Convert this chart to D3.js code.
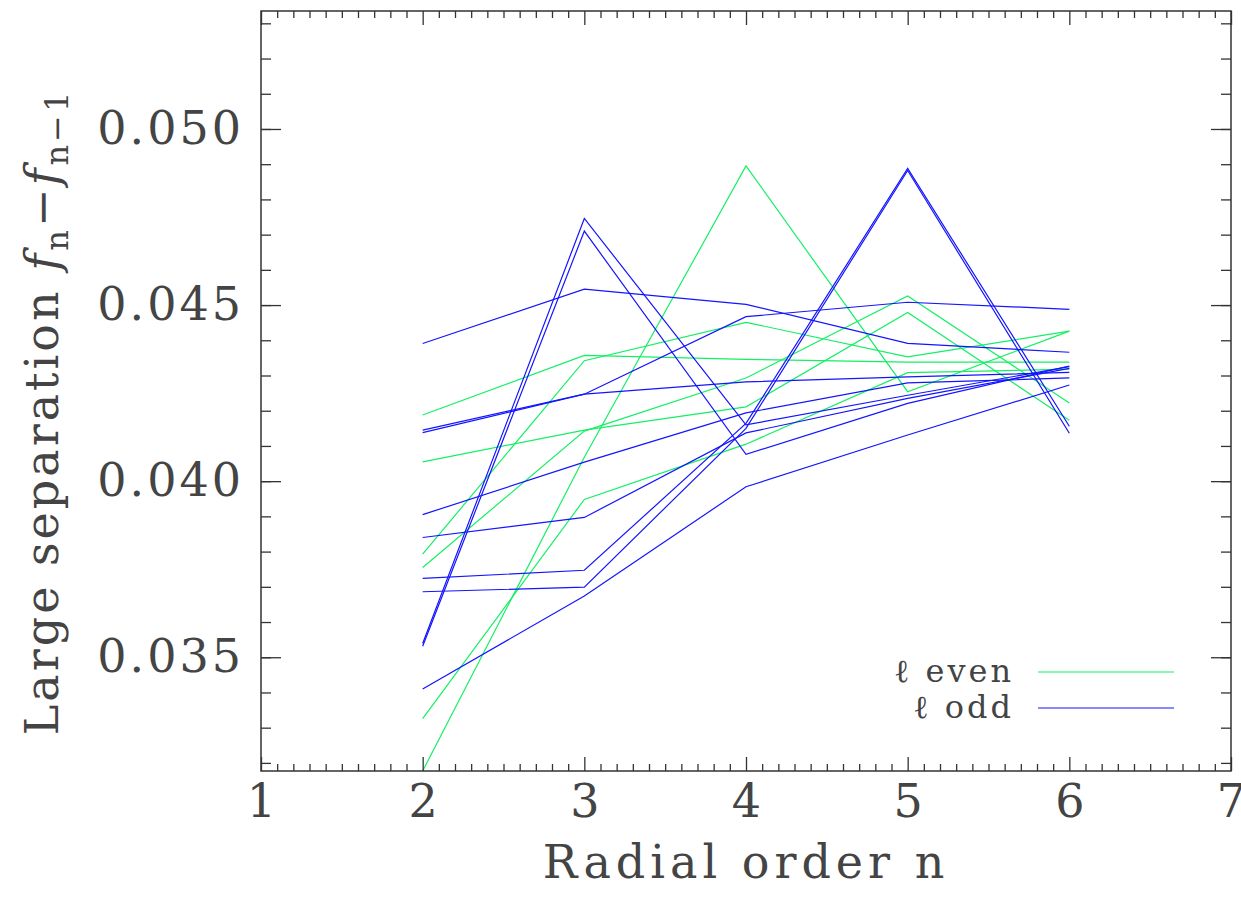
<!DOCTYPE html>
<html>
<head>
<meta charset="utf-8">
<script src="https://cdn.jsdelivr.net/npm/d3@7/dist/d3.min.js"></script>
<style>
  body { margin: 0; background: #fff; }
</style>
</head>
<body>
<div id="chart"></div>
<script>
// radial order n on the x axis
var radialOrder = [2, 3, 4, 5, 6]

// large separation for the l even modes (green)
var evenSeries = [
    [0.03177, 0.04068, 0.04895, 0.04254, 0.04426],
    [0.03326, 0.03948, 0.04105, 0.04308, 0.04318],
    [0.04188, 0.04357, 0.04346, 0.04338, 0.04338],
    [0.03793, 0.04342, 0.04451, 0.04353, 0.04426],
    [0.04055, 0.04145, 0.04211, 0.04479, 0.04173],
    [0.03755, 0.04142, 0.04293, 0.04526, 0.04222]
]

// large separation for the l odd modes (blue)
var oddSeries = [
    [0.04391, 0.04545, 0.04502, 0.04391, 0.04366],
    [0.04145, 0.04247, 0.04467, 0.04508, 0.04488],
    [0.04138, 0.04247, 0.04282, 0.04296, 0.04309],
    [0.03905, 0.04054, 0.04194, 0.04279, 0.04293],
    [0.03840, 0.03897, 0.04137, 0.04235, 0.04320],
    [0.03724, 0.03747, 0.04164, 0.04888, 0.04156],
    [0.03686, 0.03699, 0.04150, 0.04882, 0.04136],
    [0.03539, 0.04746, 0.04160, 0.04244, 0.04325],
    [0.03531, 0.04710, 0.04076, 0.04221, 0.04327],
    [0.03410, 0.03674, 0.03984, 0.04131, 0.04273]
]

var xTicks = [1, 2, 3, 4, 5, 6, 7]
var yTicks = [0.035, 0.040, 0.045, 0.050]
var legendLabels = ['even', 'odd']

var width = 1241,
    height = 912,
    margin = { top: 11, right: 10, bottom: 141, left: 261 },
    colorEven = '#14f064',
    colorOdd = '#1414ff',
    serif = '"DejaVu Serif", serif',
    textColor = '#444';

var innerW = width - margin.left - margin.right,
    innerH = height - margin.top - margin.bottom;

var svg = d3.select('#chart')
    .append('svg')
    .attr('width', width)
    .attr('height', height)
    .attr('font-family', serif)

var g = svg.append('g')
    .attr('transform', `translate(${margin.left},${margin.top})`)

var xScale = d3.scaleLinear().domain([1, 7]).range([0, innerW])
var yScale = d3.scaleLinear().domain([0.03177, 0.05335]).range([innerH, 0])

var minorX = d3.range(10, 71).map(d => d / 10).filter(d => d % 1 != 0)
var minorY = d3.range(32, 54).map(d => d / 1000)

g.append('clipPath').attr('id', 'clip')
    .append('rect').attr('width', innerW).attr('height', innerH)

// lines
var line = d3.line()
    .x((d, i) => xScale(radialOrder[i]))
    .y(d => yScale(d))

var lines = g.append('g').attr('clip-path', 'url(#clip)')

lines.selectAll('.even')
    .data(evenSeries)
    .enter().append('path')
    .attr('class', 'even')
    .attr('d', line)
    .attr('fill', 'none')
    .attr('stroke', colorEven)
    .attr('stroke-width', 1.2)

lines.selectAll('.odd')
    .data(oddSeries)
    .enter().append('path')
    .attr('class', 'odd')
    .attr('d', line)
    .attr('fill', 'none')
    .attr('stroke', colorOdd)
    .attr('stroke-width', 1.2)

// axes, ticks pointing inwards on all four sides
function styleAxis(sel) {
    sel.attr('font-family', serif)
    sel.select('.domain').remove()
    sel.selectAll('line').attr('stroke', '#333').attr('stroke-width', 1.3)
}

g.append('g').attr('transform', `translate(0,${innerH})`)
    .call(d3.axisBottom(xScale).tickValues(minorX).tickSize(-7).tickFormat(''))
    .call(styleAxis)
var xAxis = g.append('g').attr('transform', `translate(0,${innerH})`)
    .call(d3.axisBottom(xScale).tickValues(xTicks).tickSize(-14).tickPadding(13).tickFormat(d3.format('d')))
    .call(styleAxis)
xAxis.selectAll('text')
    .style('font-size', '46px')
    .style('font-weight', '200')
    .attr('fill', textColor)

g.append('g')
    .call(d3.axisTop(xScale).tickValues(minorX).tickSize(-7).tickFormat(''))
    .call(styleAxis)
g.append('g')
    .call(d3.axisTop(xScale).tickValues(xTicks).tickSize(-14).tickFormat(''))
    .call(styleAxis)

g.append('g')
    .call(d3.axisLeft(yScale).tickValues(minorY).tickSize(-10).tickFormat(''))
    .call(styleAxis)
var yAxis = g.append('g')
    .call(d3.axisLeft(yScale).tickValues(yTicks).tickSize(-20).tickPadding(17).tickFormat(d3.format('.3f')))
    .call(styleAxis)
yAxis.selectAll('text')
    .style('font-size', '46px')
    .style('font-weight', '200')
    .style('letter-spacing', '3px')
    .attr('fill', textColor)

g.append('g').attr('transform', `translate(${innerW},0)`)
    .call(d3.axisRight(yScale).tickValues(minorY).tickSize(-10).tickFormat(''))
    .call(styleAxis)
g.append('g').attr('transform', `translate(${innerW},0)`)
    .call(d3.axisRight(yScale).tickValues(yTicks).tickSize(-20).tickFormat(''))
    .call(styleAxis)

g.append('rect')
    .attr('width', innerW)
    .attr('height', innerH)
    .attr('fill', 'none')
    .attr('stroke', '#333')
    .attr('stroke-width', 1.5)

// axis titles
svg.append('text')
    .attr('x', margin.left + innerW / 2)
    .attr('y', 878)
    .attr('text-anchor', 'middle')
    .attr('fill', textColor)
    .style('font-size', '46px')
    .style('font-weight', '200')
    .style('letter-spacing', '5px')
    .text('Radial order n')

var yTitle = svg.append('text')
    .attr('transform', 'translate(58,412) rotate(-90)')
    .attr('text-anchor', 'middle')
    .attr('fill', textColor)
    .style('font-size', '46px')
    .style('font-weight', '200')
    .style('letter-spacing', '3px')
yTitle.append('tspan').text('Large separation ')
yTitle.append('tspan').style('font-style', 'italic').text('f')
yTitle.append('tspan').attr('dy', 10).style('font-size', '32px').text('n')
yTitle.append('tspan').attr('dy', -10).text('\u2212')
yTitle.append('tspan').style('font-style', 'italic').text('f')
yTitle.append('tspan').attr('dy', 10).style('font-size', '32px').text('n\u22121')

// legend
var legend = svg.append('g').attr('class', 'legend')
var legendColors = [colorEven, colorOdd]
var legendY = [672, 708]

legend.selectAll('line')
    .data(legendLabels)
    .enter().append('line')
    .attr('x1', 1038)
    .attr('x2', 1174)
    .attr('y1', (d, i) => legendY[i])
    .attr('y2', (d, i) => legendY[i])
    .attr('stroke', (d, i) => legendColors[i])
    .attr('stroke-width', 1.2)

var legendText = legend.selectAll('text')
    .data(legendLabels)
    .enter().append('text')
    .attr('x', 1014)
    .attr('y', (d, i) => legendY[i] + 10)
    .attr('text-anchor', 'end')
    .attr('fill', textColor)
    .style('font-size', '32px')
    .style('font-weight', '200')
    .style('letter-spacing', '3px')
legendText.append('tspan')
    .text('\u2113 ')
legendText.append('tspan')
    .text(d => d)
</script>
</body>
</html>
